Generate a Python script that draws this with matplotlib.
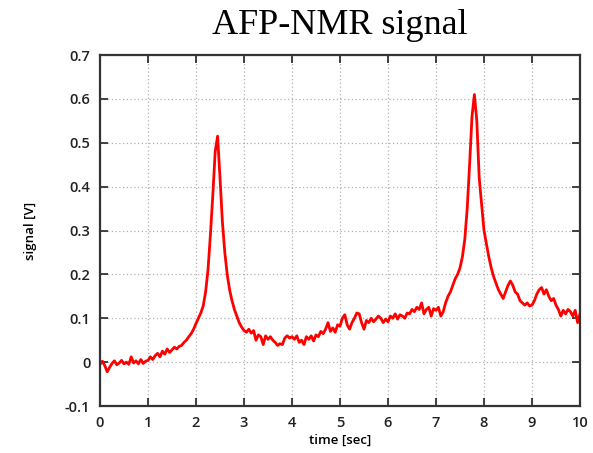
import numpy as np
import matplotlib
matplotlib.use("Agg")
import matplotlib.pyplot as plt

# time axis: 0 .. 10 s in 0.05 s steps
time_start = 0.0
time_stop = 10.0

signal_0_1 = [-0.005, 0.002, -0.008, -0.022, -0.012, -0.003, 0.003, -0.006, -0.002, 0.004,
              -0.004, 0.0, -0.005, 0.012, -0.002, 0.003, -0.004, 0.006, -0.003, 0.002, 0.004]
signal_1_2 = [0.012, 0.006, 0.015, 0.02, 0.012, 0.025, 0.018, 0.03, 0.022, 0.028,
              0.034, 0.03, 0.036, 0.038, 0.045, 0.05, 0.058, 0.065, 0.075, 0.088]
signal_2_3 = [0.1, 0.112, 0.128, 0.16, 0.21, 0.29, 0.38, 0.48, 0.515, 0.42,
              0.32, 0.25, 0.2, 0.165, 0.14, 0.12, 0.105, 0.09, 0.08, 0.072]
signal_3_4 = [0.068, 0.075, 0.066, 0.072, 0.05, 0.062, 0.058, 0.04, 0.06, 0.052,
              0.058, 0.05, 0.045, 0.038, 0.042, 0.04, 0.055, 0.06, 0.055, 0.058]
signal_4_5 = [0.052, 0.06, 0.045, 0.05, 0.04, 0.058, 0.052, 0.06, 0.048, 0.062,
              0.058, 0.07, 0.065, 0.075, 0.09, 0.07, 0.078, 0.068, 0.085, 0.082]
signal_5_6 = [0.1, 0.108, 0.085, 0.075, 0.09, 0.1, 0.112, 0.11, 0.09, 0.075,
              0.095, 0.09, 0.1, 0.092, 0.098, 0.105, 0.1, 0.09, 0.098, 0.092]
signal_6_7 = [0.105, 0.1, 0.11, 0.098, 0.108, 0.105, 0.1, 0.112, 0.11, 0.12,
              0.115, 0.125, 0.12, 0.135, 0.11, 0.12, 0.125, 0.105, 0.122, 0.118]
signal_7_8 = [0.125, 0.105, 0.115, 0.135, 0.15, 0.16, 0.175, 0.19, 0.2, 0.215,
              0.24, 0.28, 0.35, 0.45, 0.56, 0.61, 0.55, 0.42, 0.36, 0.3]
signal_8_9 = [0.27, 0.24, 0.215, 0.195, 0.18, 0.165, 0.155, 0.145, 0.16, 0.175,
              0.185, 0.175, 0.16, 0.155, 0.14, 0.135, 0.13, 0.135, 0.128, 0.13]
signal_9_10 = [0.14, 0.155, 0.165, 0.17, 0.155, 0.165, 0.15, 0.14, 0.145, 0.13,
               0.12, 0.105, 0.118, 0.11, 0.12, 0.115, 0.105, 0.118, 0.09, 0.11]

signal = (signal_0_1 + signal_1_2 + signal_2_3 + signal_3_4 + signal_4_5 +
          signal_5_6 + signal_6_7 + signal_7_8 + signal_8_9 + signal_9_10)
time = np.linspace(time_start, time_stop, len(signal))

x_ticks = [0, 1, 2, 3, 4, 5, 6, 7, 8, 9, 10]
y_ticks = [-0.1, 0, 0.1, 0.2, 0.3, 0.4, 0.5, 0.6, 0.7]
y_tick_labels = ["-0.1", "0", "0.1", "0.2", "0.3", "0.4", "0.5", "0.6", "0.7"]

fig = plt.figure(figsize=(5.93, 4.53), dpi=100)
ax = fig.add_axes([100/593, 47/453, 480/593, 351/453])

ax.plot(time, signal, color="#ff0000", lw=2.0)

ax.set_xlim(0, 10)
ax.set_ylim(-0.1, 0.7)
ax.set_xticks(x_ticks)
ax.set_yticks(y_ticks)
ax.set_yticklabels(y_tick_labels)

ax.grid(True, linestyle=(0, (1, 2)), color="#b0b0b0", lw=0.9)
ax.tick_params(direction="in", length=6, width=1.2, top=True, right=True,
               labelsize=10.5, pad=7, colors="#222222")
for lab in ax.get_xticklabels() + ax.get_yticklabels():
    lab.set_family("Open Sans")
    lab.set_fontweight("semibold")
for s in ax.spines.values():
    s.set_linewidth(1.6)
    s.set_color("#333333")

ax.set_xlabel("time [sec]", fontsize=9.5, family="Open Sans", fontweight="semibold", labelpad=3)
ax.set_ylabel("signal [V]", fontsize=9.5, family="Open Sans", fontweight="semibold", labelpad=20)

fig.text(340/593, 1 - 26/453, "AFP-NMR signal", ha="center", va="center",
         fontsize=26, family="Liberation Serif")

fig.savefig("out.png", dpi=100)
